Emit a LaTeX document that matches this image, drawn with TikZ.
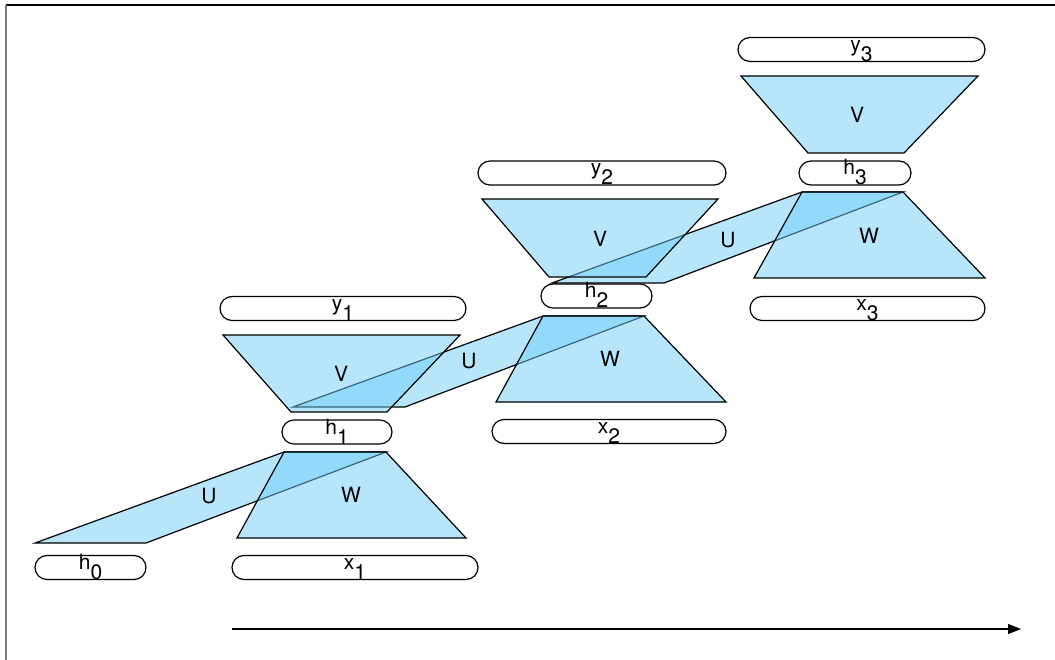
\documentclass[tikz,border=0pt]{standalone}
\usepackage{fontspec}
\setmainfont{TeX Gyre Heros}
\usetikzlibrary{arrows.meta}
\definecolor{ublue}{RGB}{112,205,248}
\definecolor{framegrey}{RGB}{120,120,120}
\newcommand\lowsub[1]{\raisebox{-10pt}{#1}}
\begin{document}
\begin{tikzpicture}[x=1pt,y=-1pt,
  pill/.style={draw=black, line width=1.2pt, fill=white, rounded corners=12pt,
    minimum height=24pt, inner sep=0pt, text height=12pt, text depth=8pt,
    font=\fontsize{21}{22}\selectfont},
  trap/.style={draw=black, line width=1.2pt, fill=ublue, fill opacity=0.5, draw opacity=1},
  lbl/.style={inner sep=0pt, font=\fontsize{21}{22}\selectfont},
  timeline/.style={draw=black, line width=1.2pt, -{Triangle[length=13pt,width=10pt]}},
]
\useasboundingbox (0,0) rectangle (1055,660);
% frame
\draw[line width=1.2pt] (6,5) -- (1055,5);
\draw[framegrey, line width=2.4pt] (6,5) -- (6,660);

% U parallelograms (drawn first)
\draw[trap] (35,543) -- (146,543) -- (386,452) -- (284,452) -- cycle;
\draw[trap] (293,407) -- (405,407) -- (644,316) -- (543,316) -- cycle;
\draw[trap] (552,283) -- (664,283) -- (903,192) -- (802,192) -- cycle;

% V and W trapezoids
\draw[trap] (223,335) -- (460,335) -- (387,412) -- (291,412) -- cycle;
\draw[trap] (284,452) -- (386,452) -- (466,538) -- (237,538) -- cycle;
\draw[trap] (482,199) -- (718,199) -- (646,277) -- (549,277) -- cycle;
\draw[trap] (543,316) -- (644,316) -- (726,402) -- (496,402) -- cycle;
\draw[trap] (741,76) -- (978,76) -- (904,153) -- (808,153) -- cycle;
\draw[trap] (802,192) -- (903,192) -- (985,278) -- (754,278) -- cycle;

% matrix labels
\node[lbl] (u1) at (209,496) {U};
\node[lbl] (u2) at (469,361) {U};
\node[lbl] (u3) at (728,240) {U};
\node[lbl] (v1) at (341,374) {V};
\node[lbl] (v2) at (600,239) {V};
\node[lbl] (v3) at (857,115) {V};
\node[lbl] (w1) at (351,495) {W};
\node[lbl] (w2) at (610,359) {W};
\node[lbl] (w3) at (869,236) {W};

% boxes
\node[pill, minimum width=111pt] (h0) at (90.5,567.5) {h\lowsub{0}};
\node[pill, minimum width=246pt] (x1) at (355,567.5) {x\lowsub{1}};
\node[pill, minimum width=110pt] (h1) at (337,432) {h\lowsub{1}};
\node[pill, minimum width=246pt] (y1) at (343,308.5) {y\lowsub{1}};
\node[pill, minimum width=234pt] (x2) at (609,431.5) {x\lowsub{2}};
\node[pill, minimum width=111pt] (h2) at (596.5,296) {h\lowsub{2}};
\node[pill, minimum width=248pt] (y2) at (602,173) {y\lowsub{2}};
\node[pill, minimum width=235pt] (x3) at (867.5,308.5) {x\lowsub{3}};
\node[pill, minimum width=112pt] (h3) at (855,173) {h\lowsub{3}};
\node[pill, minimum width=247pt] (y3) at (861.5,49.5) {y\lowsub{3}};

% time arrow
\coordinate (t0) at (232,629);
\coordinate (t1) at (1021,629);
\draw[timeline] (t0) -- (t1);
\end{tikzpicture}
\end{document}
